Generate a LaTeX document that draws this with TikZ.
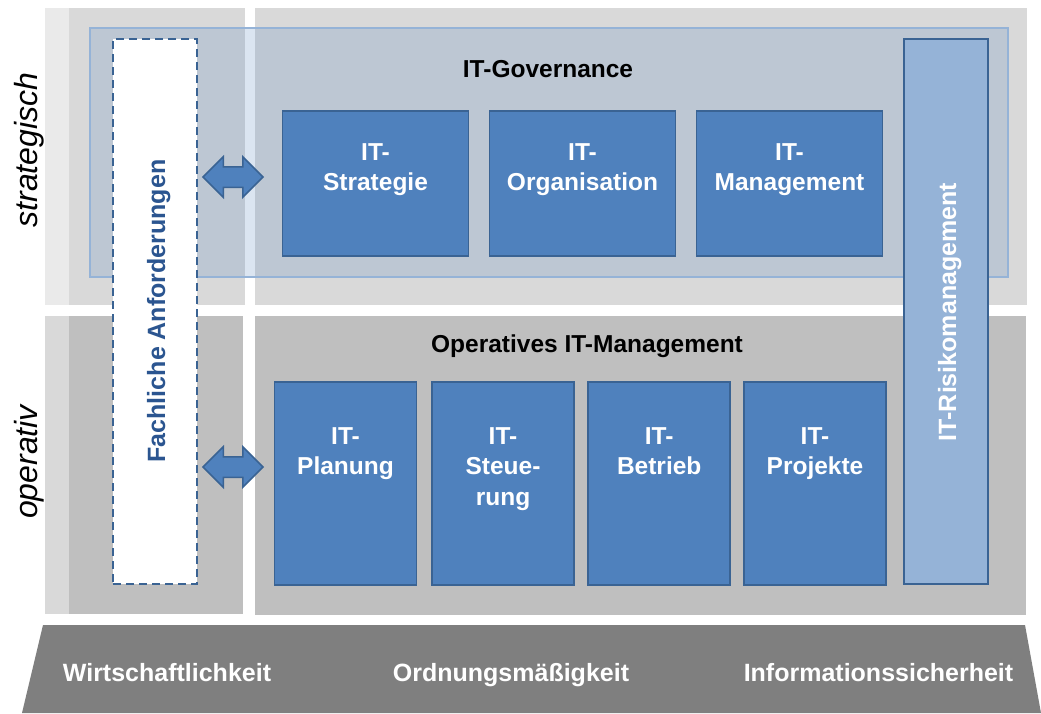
\documentclass[tikz,border=0pt]{standalone}
\usepackage{fontspec}
\setmainfont{Liberation Sans}
\usetikzlibrary{shapes.arrows}
\definecolor{panelA}{HTML}{D9D9D9}
\definecolor{panelAs}{HTML}{EAEAEA}
\definecolor{panelB}{HTML}{BFBFBF}
\definecolor{panelBs}{HTML}{D9D9D9}
\definecolor{boxblue}{HTML}{4F81BD}
\definecolor{boxedge}{HTML}{3A6393}
\definecolor{lightblue}{HTML}{95B3D7}
\definecolor{bandedge}{HTML}{95B3D7}
\definecolor{darktext}{HTML}{2B5590}
\definecolor{basegray}{HTML}{7F7F7F}
\begin{document}
\begin{tikzpicture}[x=1pt,y=-1pt,
  box/.style={draw=boxedge, fill=boxblue, line width=1.5pt, inner sep=0pt},
  topbox/.style={box, minimum width=186pt, minimum height=145pt},
  botbox/.style={box, minimum width=142pt, minimum height=203pt},
  lbl/.style={font=\bfseries\fontsize{24.5}{30.5}\selectfont, text=white, align=center, inner sep=0pt},
  ttl/.style={font=\bfseries\fontsize{24.5}{30.5}\selectfont, text=black, inner sep=0pt},
  baselbl/.style={font=\bfseries\fontsize{25}{30}\selectfont, text=white, inner sep=0pt, anchor=base},
  sidelbl/.style={font=\itshape\fontsize{32}{38}\selectfont, text=black, inner sep=0pt, rotate=90, anchor=base},
  dblarrow/.style={double arrow, draw=boxedge, fill=boxblue, line width=1.5pt,
    minimum height=60pt, minimum width=39pt, inner xsep=0pt, inner ysep=9.5pt,
    double arrow head extend=10pt}
]
\useasboundingbox[fill=white] (0,0) rectangle (1041,713);
% panels
\fill[panelA] (45,8) rectangle (245,305);
\fill[panelAs] (45,8) rectangle (69,305);
\fill[panelA] (255,8) rectangle (1027,305);
\fill[panelB] (45,316) rectangle (243,614);
\fill[panelBs] (45,316) rectangle (69,614);
\fill[panelB] (255,316) rectangle (1026,615);
% translucent governance band
\fill[boxblue, fill opacity=0.2] (90,28) rectangle (1008,277);
\draw[bandedge, line width=1.5pt] (90,28) rectangle (1008,277);
% base trapezoid
\fill[basegray] (43,625) -- (1025,625) -- (1041,713) -- (22,713) -- cycle;
% side boxes
\node[draw=boxedge, fill=white, line width=2pt, dash pattern=on 8pt off 5pt,
  minimum width=84pt, minimum height=545pt, inner sep=0pt] (fach) at (155,311.5) {};
\node[box, line width=2pt, fill=lightblue, minimum width=84pt, minimum height=545pt] (risk) at (946,311.5) {};
\node[font=\bfseries\fontsize{25}{30}\selectfont, text=darktext, inner sep=0pt, rotate=90, anchor=base] (fachT) at (165,311) {Fachliche Anforderungen};
\node[font=\bfseries\fontsize{25}{30}\selectfont, text=white, inner sep=0pt, rotate=90, anchor=base] (riskT) at (956,312) {IT-Risikomanagement};
% titles
\node[ttl, anchor=base] (govT) at (548,77.7) {IT-Governance};
\node[ttl, anchor=base] (opT) at (587,352) {Operatives IT-Management};
% governance boxes
\node[topbox] (strat) at (375.5,183.5) {};
\node[topbox] (orga) at (582.5,183.5) {};
\node[topbox] (mgmt) at (789.5,183.5) {};
\node[lbl, anchor=north] (stratT) at ([yshift=-33pt]strat.north) {IT-\\Strategie};
\node[lbl, anchor=north] (orgaT) at ([yshift=-33pt]orga.north) {IT-\\Organisation};
\node[lbl, anchor=north] (mgmtT) at ([yshift=-33pt]mgmt.north) {IT-\\Management};
% operative boxes
\node[botbox] (plan) at (345.5,483.5) {};
\node[botbox] (steu) at (503,483.5) {};
\node[botbox] (betr) at (659.2,483.5) {};
\node[botbox] (proj) at (815,483.5) {};
\node[lbl, anchor=north] (planT) at ([yshift=-46pt]plan.north) {IT-\\Planung};
\node[lbl, anchor=north] (steuT) at ([yshift=-46pt]steu.north) {IT-\\Steue-\\rung};
\node[lbl, anchor=north] (betrT) at ([yshift=-46pt]betr.north) {IT-\\Betrieb};
\node[lbl, anchor=north] (projT) at ([yshift=-46pt]proj.north) {IT-\\Projekte};
% arrows
\node[dblarrow] (arrU) at (233,177) {};
\node[dblarrow] (arrL) at (233,467) {};
% side labels
\node[sidelbl] (strT) at (37,150) {strategisch};
\node[sidelbl] (opeT) at (37,462) {operativ};
% base labels
\node[baselbl] (wirt) at (167,681) {Wirtschaftlichkeit};
\node[baselbl] (ordn) at (511,681) {Ordnungsmäßigkeit};
\node[baselbl] (info) at (878.5,681) {Informationssicherheit};
\end{tikzpicture}
\end{document}
